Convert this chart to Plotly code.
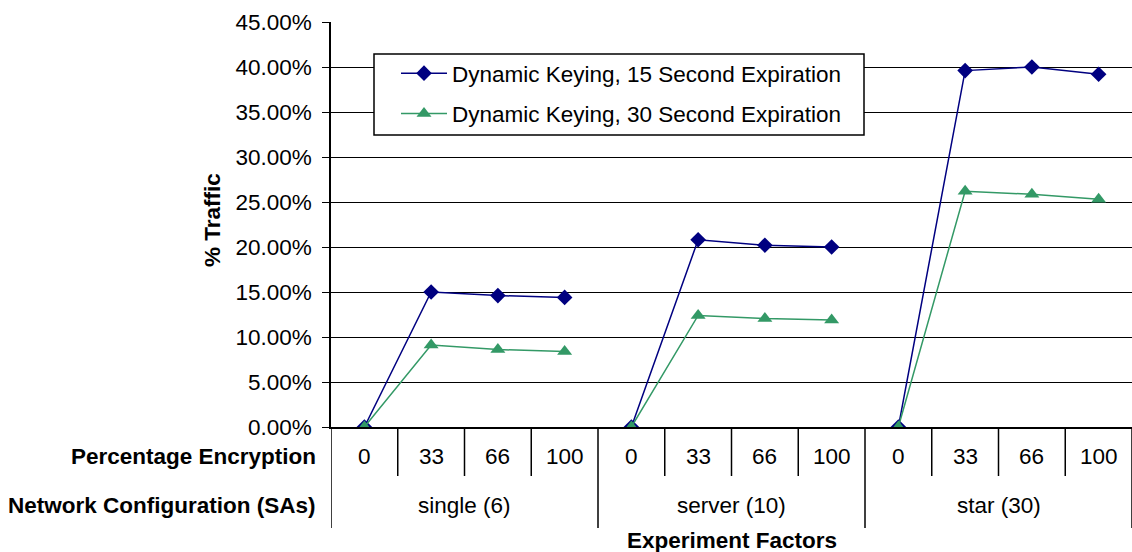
import plotly.graph_objects as go

# ---- data ----
enc_levels = ["0", "33", "66", "100"]
configs = ["single (6)", "server (10)", "star (30)"]
dk15 = [[0.0, 15.0, 14.6, 14.4], [0.0, 20.8, 20.2, 20.0], [0.0, 39.6, 40.0, 39.2]]
dk30 = [[0.0, 9.1, 8.6, 8.4], [0.0, 12.4, 12.05, 11.9], [0.0, 26.2, 25.85, 25.3]]
series_names = ["Dynamic Keying, 15 Second Expiration", "Dynamic Keying, 30 Second Expiration"]
y_ticks = [0, 5, 10, 15, 20, 25, 30, 35, 40, 45]

FONT = "Liberation Sans, Arial, sans-serif"
FS = 22.5
n_enc = len(enc_levels)
n_cat = n_enc * len(configs)

# plot-area geometry in pixels (for paper-coordinate conversion)
W, H = 1132, 552
ML, MR, MT, MB = 331, 0, 22, 125
PW, PH = W - ML - MR, H - MT - MB
def px(x):
    return (x - ML) / PW
def py(y):
    return (H - MB - y) / PH

fig = go.Figure()
styles = [
    dict(color="#000080", symbol="diamond", size=12),
    dict(color="#339966", symbol="triangle-up", size=13),
]
for si, (name, data) in enumerate(zip(series_names, [dk15, dk30])):
    for gi, vals in enumerate(data):
        xs = [gi * n_enc + k for k in range(n_enc)]
        fig.add_trace(go.Scatter(
            x=xs, y=[v / 100 for v in vals], mode="lines+markers",
            name=name, legendgroup=name, showlegend=(gi == 0),
            line=dict(color=styles[si]["color"], width=1.5),
            marker=dict(color=styles[si]["color"], symbol=styles[si]["symbol"], size=styles[si]["size"]),
        ))

shapes = []
annotations = []
for i in range(n_cat + 1):
    xb = i - 0.5
    is_group = (i % n_enc == 0)
    y1 = py(528) if is_group else py(476)
    shapes.append(dict(type="line", xref="x", yref="paper", x0=xb, x1=xb, y0=0, y1=y1,
                       line=dict(color="black", width=1.5)))
# legend frame
shapes.append(dict(type="rect", xref="paper", yref="paper", x0=px(374), x1=px(864), y0=py(135), y1=py(54),
                   line=dict(color="black", width=1.5), fillcolor="white", layer="above"))

for gi, cfg in enumerate(configs):
    for k, e in enumerate(enc_levels):
        annotations.append(dict(x=gi * n_enc + k, y=py(457), xref="x", yref="paper", text=e,
                                showarrow=False, xanchor="center", yanchor="middle",
                                font=dict(family=FONT, size=FS, color="black")))
    annotations.append(dict(x=gi * n_enc + (n_enc - 1) / 2, y=py(505), xref="x", yref="paper", text=cfg,
                            showarrow=False, xanchor="center", yanchor="middle",
                            font=dict(family=FONT, size=FS, color="black")))

annotations += [
    dict(x=px(318), y=py(457), xref="paper", yref="paper", text="<b>Percentage Encryption</b>",
         showarrow=False, xanchor="right", yanchor="middle", font=dict(family=FONT, size=FS, color="black")),
    dict(x=px(318), y=py(505), xref="paper", yref="paper", text="<b>Network Configuration (SAs)</b>",
         showarrow=False, xanchor="right", yanchor="middle", font=dict(family=FONT, size=FS, color="black")),
    dict(x=0.5, y=py(540), xref="paper", yref="paper", text="<b>Experiment Factors</b>",
         showarrow=False, xanchor="center", yanchor="middle", font=dict(family=FONT, size=FS, color="black")),
    dict(x=px(212), y=py(220), xref="paper", yref="paper", text="<b>% Traffic</b>", textangle=-90,
         showarrow=False, xanchor="center", yanchor="middle", font=dict(family=FONT, size=FS, color="black")),
]

fig.update_layout(
    width=W, height=H,
    margin=dict(l=ML, r=MR, t=MT, b=MB),
    paper_bgcolor="white", plot_bgcolor="white",
    font=dict(family=FONT, size=FS, color="black"),
    showlegend=True,
    legend=dict(x=px(396), y=py(52), xanchor="left", yanchor="top",
                bgcolor="rgba(0,0,0,0)", borderwidth=0, itemwidth=46,
                font=dict(family=FONT, size=FS, color="black"),
                tracegroupgap=8),
    xaxis=dict(range=[-0.5, n_cat - 0.5], showticklabels=False, showgrid=False, zeroline=False,
               showline=True, linecolor="black", linewidth=1.5, ticks=""),
    yaxis=dict(range=[0, 0.45], tickvals=[t / 100 for t in y_ticks], tickformat=".2%",
               showgrid=True, gridcolor="black", gridwidth=1, zeroline=False,
               showline=True, linecolor="black", linewidth=1.5, ticks="outside", ticklen=7,
               tickcolor="black", ticklabelstandoff=6,
               tickfont=dict(family=FONT, size=FS, color="black")),
    shapes=shapes, annotations=annotations,
)

fig.write_html("out.html")
